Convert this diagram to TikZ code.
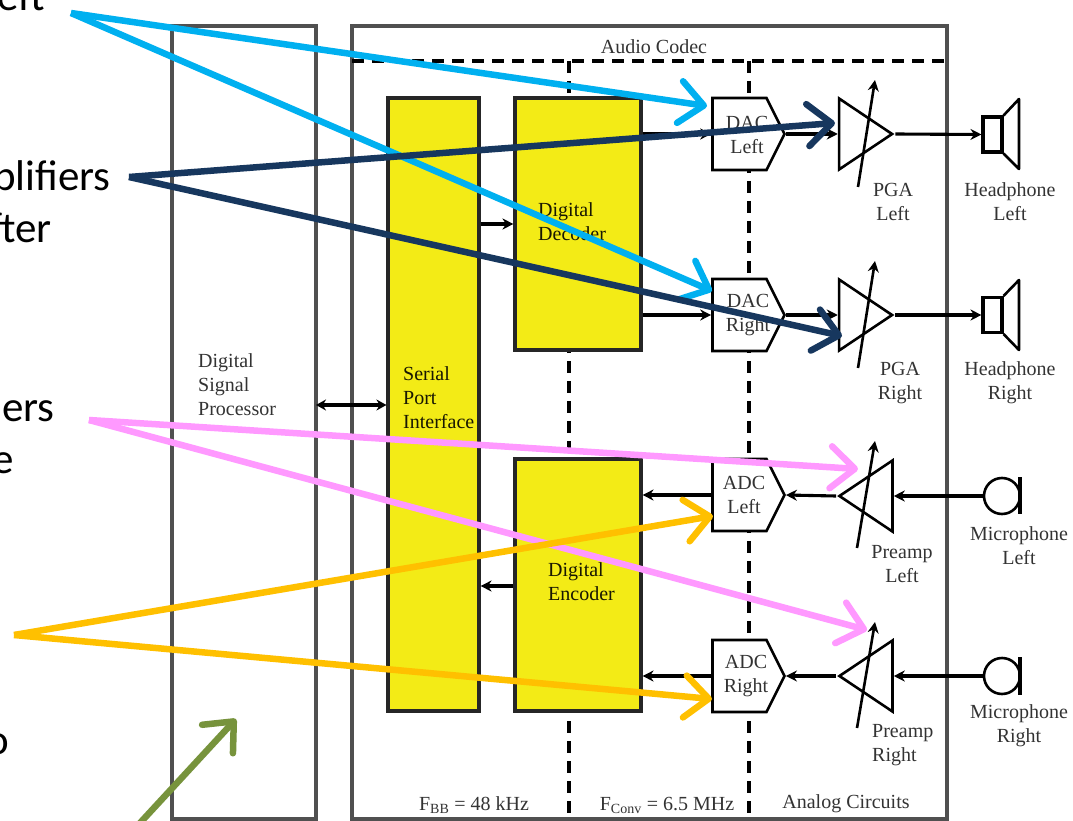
\documentclass[tikz,border=0pt]{standalone}
\usepackage{fontspec}
\setmainfont{Liberation Serif}
\newfontfamily\calloutfont{Carlito}
\usepackage{xcolor}
\usetikzlibrary{arrows.meta,positioning,shapes.geometric,shapes.symbols}
\definecolor{framegray}{RGB}{80,80,80}
\definecolor{blockyellow}{RGB}{243,235,22}
\definecolor{cyanline}{RGB}{0,176,240}
\definecolor{navyline}{RGB}{23,55,94}
\definecolor{pinkline}{RGB}{255,153,255}
\definecolor{amberline}{RGB}{255,192,0}
\definecolor{oliveline}{RGB}{119,147,60}
\tikzset{
  lbl/.style={font=\fontsize{20}{24}\selectfont,text=black!80,align=center,inner sep=0pt},
  callout/.style={font=\fontsize{43}{52}\calloutfont,anchor=base east,inner sep=0pt},
  yellowblock/.style={draw=black!85,line width=3.1pt,fill=blockyellow,minimum width=#1,inner sep=0pt},
  convblock/.style={signal,signal to=east,signal from=nowhere,signal pointer angle=127,draw=black,line width=2.6pt,fill=white,minimum width=72pt,minimum height=72pt,inner sep=0pt},
  amptri/.style={isosceles triangle,isosceles triangle stretches,draw=black,line width=2.6pt,minimum width=71pt,minimum height=53pt,inner sep=0pt},
  spkbox/.style={draw=black,line width=3.1pt,minimum width=19pt,minimum height=35pt,inner sep=0pt},
  micball/.style={circle,draw=black,line width=2.6pt,minimum size=36pt,inner sep=0pt},
  sigwire/.style={draw=black,line width=3.1pt,-{Stealth[length=11pt,width=11pt]}},
  biwire/.style={draw=black,line width=3.1pt,{Stealth[length=10pt,width=11pt]}-{Stealth[length=10pt,width=11pt]}},
  gainarrow/.style={draw=black,line width=2.6pt,-{Stealth[length=11pt,width=11pt]}},
  pointer/.style={line width=6.5pt,-{Straight Barb[length=24pt,width=42pt,line width=6.5pt,round]}}
}
\begin{document}
\begin{tikzpicture}[x=1pt,y=-1pt,>=Stealth]
\useasboundingbox (0,0) rectangle (1073,821);
\fill[white] (0,0) rectangle (1073,821);
% outer frames
\draw[framegray,line width=3.1pt] (172,819) |- (316,26) -- (316,819) -- cycle;
\draw[framegray,line width=3.1pt] (352,819) |- (947,26) -- (947,819) -- cycle;
\draw[black,line width=3.1pt,dash pattern=on 12pt off 8pt] (352,61) -- (947,61);
\draw[black,line width=3.1pt,dash pattern=on 12pt off 8pt] (569,61) -- (569,819);
\draw[black,line width=3.1pt,dash pattern=on 12pt off 8pt] (749,61) -- (749,819);
\node[lbl] (codec) at (654,47) {Audio Codec};
\node[lbl,align=left,anchor=west] (dsplbl) at (198,385) {Digital\\Signal\\Processor};
% yellow blocks
\node[yellowblock=91pt,minimum height=613pt] (spi) at (433.5,404.5) {};
\node[yellowblock=126pt,minimum height=252pt] (dec) at (578,224) {};
\node[yellowblock=126pt,minimum height=252pt] (enc) at (578,585) {};
\node[lbl,align=left,anchor=west,text=black!90!blockyellow] (spilbl) at (403,398) {Serial\\Port\\Interface};
\node[lbl,align=left,anchor=west,text=black!90!blockyellow] (declbl) at (538,222) {Digital\\Decoder};
\node[lbl,align=left,anchor=west,text=black!90!blockyellow] (enclbl) at (548,582) {Digital\\Encoder};
% converters
\node[convblock] (dacl) at (739.5,134) {};
\node[convblock] (dacr) at (739.5,315) {};
\node[convblock] (adcl) at (739.5,495) {};
\node[convblock] (adcr) at (739.5,676) {};
\node[lbl] (dacllbl) at (747,135) {DAC\\Left};
\node[lbl] (dacrlbl) at (748,315) {DAC\\Right};
\node[lbl] (adcllbl) at (744,495) {ADC\\Left};
\node[lbl] (adcrlbl) at (746,676) {ADC\\Right};
% amplifiers
\node[amptri] (pgal) at (858,134) {};
\node[amptri] (pgar) at (858,315) {};
\node[amptri,shape border rotate=180] (prel) at (873.5,496) {};
\node[amptri,shape border rotate=180] (prer) at (873.5,676) {};
\draw[gainarrow] (858,187) -- (875,80);
\draw[gainarrow] (858,368) -- (875,261);
\draw[gainarrow] (857,548) -- (875,441);
\draw[gainarrow] (857,728) -- (875,622);
% speakers and microphones
\node[spkbox] (spkl) at (992.5,134.5) {};
\node[spkbox] (spkr) at (992.5,315) {};
\draw[black,line width=2.6pt,line join=round] (spkl.north east) -- (1019,99) -- (1019,169) -- (spkl.south east);
\draw[black,line width=2.6pt,line join=round] (spkr.north east) -- (1019,280) -- (1019,350) -- (spkr.south east);
\node[micball] (micl) at (1002,496) {};
\node[micball] (micr) at (1002,676) {};
\draw[black,line width=3.1pt] (1020,477) -- (1020,514);
\draw[black,line width=3.1pt] (1020,657) -- (1020,695);
% signal paths
\draw[biwire] (316,405) -- (spi.west |- 316,405);
\draw[sigwire] (spi.east |- 0,224) -- (dec.west |- 0,224);
\draw[sigwire] (enc.west |- 0,586) -- (spi.east |- 0,586);
\draw[sigwire] (dec.east |- dacl.west) -- (dacl.west);
\draw[sigwire] (dec.east |- dacr.west) -- (dacr.west);
\draw[sigwire] (adcl.west) -- (enc.east |- adcl.west);
\draw[sigwire] (adcr.west) -- (enc.east |- adcr.west);
\draw[sigwire] (dacl.east) -- (pgal.west);
\draw[sigwire] (dacr.east) -- (pgar.west);
\draw[sigwire] (pgal.apex) -- (spkl.west);
\draw[sigwire] (pgar.apex) -- (spkr.west);
\draw[sigwire] (prel.apex) -- (adcl.east);
\draw[sigwire] (prer.apex) -- (adcr.east);
\draw[sigwire] (micl.west) -- (prel.east);
\draw[sigwire] (micr.west) -- (prer.east);
% labels
\node[lbl] (pgallbl) at (893,202) {PGA\\Left};
\node[lbl] (pgarlbl) at (900,383) {PGA\\Right};
\node[lbl] (hpllbl) at (1010,202) {Headphone\\Left};
\node[lbl] (hprlbl) at (1010,383) {Headphone\\Right};
\node[lbl] (prellbl) at (902,564) {Preamp\\Left};
\node[lbl,align=left,anchor=west] (prerlbl) at (872,745) {Preamp\\Right};
\node[lbl] (mlbl) at (1019,545.5) {Microphone\\Left};
\node[lbl] (mrlbl) at (1019,725.5) {Microphone\\Right};
\node[lbl] (bblbl) at (474,805) {F\textsubscript{BB} = 48 kHz};
\node[lbl] (convlbl) at (667,805) {F\textsubscript{Conv} = 6.5 MHz};
\node[lbl] (anlbl) at (846,804) {Analog Circuits};
% callout text, cut by the page edge
\node[callout] (t1) at (45,11) {eft};
\node[callout] (t2) at (111,191) {plifiers};
\node[callout] (t3) at (52,242) {fter};
\node[callout] (t4) at (55,421) {iers};
\node[callout] (t5) at (14,473) {e};
\node[callout] (t6) at (9,754) {o};
% callout arrows
\coordinate (cyanfrom) at (71,13);
\coordinate (navyfrom) at (129,177);
\coordinate (pinkfrom) at (89,420);
\coordinate (amberfrom) at (14,635);
\coordinate (olivefrom) at (140,823);
\coordinate (cyanA) at (707,106);
\coordinate (cyanB) at (712,291);
\coordinate (navyA) at (835,123);
\coordinate (navyB) at (842,336);
\coordinate (pinkA) at (858,469);
\coordinate (pinkB) at (867,630);
\coordinate (amberA) at (713,516);
\coordinate (amberB) at (712,699);
\coordinate (oliveA) at (236,719);
\draw[pointer,cyanline] (cyanfrom) -- (cyanA);
\draw[pointer,cyanline] (cyanfrom) -- (cyanB);
\draw[pointer,navyline] (navyfrom) -- (navyA);
\draw[pointer,navyline] (navyfrom) -- (navyB);
\draw[pointer,pinkline] (pinkfrom) -- (pinkA);
\draw[pointer,pinkline] (pinkfrom) -- (pinkB);
\draw[pointer,amberline] (amberfrom) -- (amberA);
\draw[pointer,amberline] (amberfrom) -- (amberB);
\draw[pointer,oliveline] (olivefrom) -- (oliveA);
\end{tikzpicture}
\end{document}
